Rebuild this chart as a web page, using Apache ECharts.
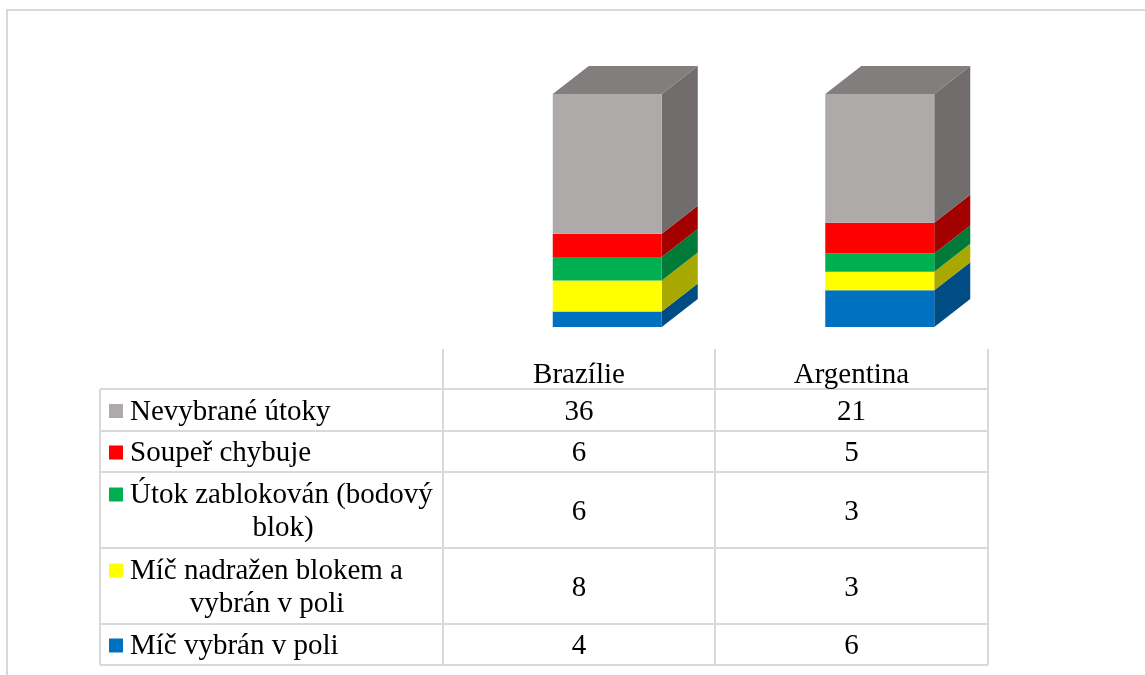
<!DOCTYPE html>
<html>
<head>
<meta charset="utf-8">
<script src="https://cdn.jsdelivr.net/npm/echarts@6/dist/echarts.min.js"></script>
<style>
html,body{margin:0;padding:0;background:#fff;}
#chart{width:1145px;height:675px;}
</style>
</head>
<body>
<div id="chart"></div>
<script>
// ---- data ----
const categories = ['Brazílie', 'Argentina'];
const seriesNames = ['Míč vybrán v poli', 'Míč nadražen blokem a vybrán v poli', 'Útok zablokován (bodový blok)', 'Soupeř chybuje', 'Nevybrané útoky'];
const valuesBlue   = [4, 6];
const valuesYellow = [8, 3];
const valuesGreen  = [6, 3];
const valuesRed    = [6, 5];
const valuesGray   = [36, 21];
// label lines as wrapped in the table
const tableLabelLines = [
  ['Míč vybrán v poli'],
  ['Míč nadražen blokem a', 'vybrán v poli'],
  ['Útok zablokován (bodový', 'blok)'],
  ['Soupeř chybuje'],
  ['Nevybrané útoky']
];

// ---- styles ----
const frontColors = ['#0070C0', '#FFFF00', '#00B050', '#FF0000', '#AEAAAA'];
const sideColors  = ['#004C85', '#A8A800', '#007A38', '#A30000', '#716D6D'];
const topColor = '#827E7E';
const FONT = '"Liberation Serif", "Times New Roman", serif';
const FS = 29;
const lineColor = '#d9d9d9';

const allValues = [valuesBlue, valuesYellow, valuesGreen, valuesRed, valuesGray];
// 100% stacking
const totals = categories.map((c, i) => allValues.reduce((s, arr) => s + arr[i], 0));
const stacked = [];
const running = categories.map(() => 0);
allValues.forEach((arr, si) => {
  stacked.push(arr.map((v, ci) => {
    const start = running[ci] / totals[ci] * 100;
    running[ci] += v;
    const end = running[ci] / totals[ci] * 100;
    return [ci, start, end, v];
  }));
});

const HALF_W = 54.5, DX = 36, DY = 28;

function makeRender(si) {
  return function (params, api) {
    const ci = api.value(0);
    const p0 = api.coord([ci, api.value(1)]);
    const p1 = api.coord([ci, api.value(2)]);
    const xl = p0[0] - HALF_W, xr = p0[0] + HALF_W;
    const yb = p0[1], yt = p1[1];
    const children = [
      { type: 'polygon', shape: { points: [[xr, yb], [xr + DX, yb - DY], [xr + DX, yt - DY], [xr, yt]] },
        style: { fill: sideColors[si] } },
      { type: 'rect', shape: { x: xl, y: yt, width: xr - xl, height: yb - yt },
        style: { fill: frontColors[si] } }
    ];
    if (si === allValues.length - 1) {
      children.push({ type: 'polygon', shape: { points: [[xl, yt], [xl + DX, yt - DY], [xr + DX, yt - DY], [xr, yt]] },
        style: { fill: topColor } });
    }
    return { type: 'group', children: children };
  };
}

// ---- table layout ----
const tblLeft = 100, colX = [443, 715, 988];
const rowY = [389, 431, 472, 548, 624, 665];
const headerTop = 349;
const graphics = [];
// outer chart border
graphics.push({ type: 'rect', shape: { x: 7, y: 10, width: 1300, height: 1000 }, style: { fill: null, stroke: lineColor, lineWidth: 2 }, silent: true });
function hline(y, x1, x2) { graphics.push({ type: 'line', shape: { x1: x1, y1: y, x2: x2, y2: y }, style: { stroke: lineColor, lineWidth: 2 } }); }
function vline(x, y1, y2) { graphics.push({ type: 'line', shape: { x1: x, y1: y1, x2: x, y2: y2 }, style: { stroke: lineColor, lineWidth: 2 } }); }
rowY.forEach(y => hline(y, tblLeft, colX[2]));
vline(tblLeft, rowY[0], rowY[rowY.length - 1]);
colX.forEach(x => vline(x, headerTop, rowY[rowY.length - 1]));

const TY = 2; // text vertical nudge
function txt(s, x, y, align) {
  graphics.push({ type: 'text', x: x, y: y + TY, style: { text: s, font: FS + 'px ' + FONT, fill: '#000', textAlign: align || 'center', textVerticalAlign: 'middle' } });
}
// headers
categories.forEach((c, ci) => txt(c, (colX[ci] + colX[ci + 1]) / 2, 373));
// rows: table order is top series first
const rowOrder = [4, 3, 2, 1, 0];
const line2X = { 2: 283, 1: 267 };
rowOrder.forEach((si, ri) => {
  const y0 = rowY[ri], y1 = rowY[ri + 1];
  const mid = (y0 + y1) / 2;
  const lines = tableLabelLines[si];
  const firstY = lines.length === 1 ? mid : mid - 16.5;
  graphics.push({ type: 'rect', shape: { x: 109, y: firstY - 7 + 1, width: 14, height: 14 }, style: { fill: frontColors[si] } });
  txt(lines[0], 130, firstY, 'left');
  if (lines.length > 1) txt(lines[1], line2X[si], firstY + 33);
  categories.forEach((c, ci) => txt(String(allValues[si][ci]), (colX[ci] + colX[ci + 1]) / 2, mid));
});

const chart = echarts.init(document.getElementById('chart'));
chart.setOption({
  backgroundColor: '#fff',
  animation: false,
  grid: { left: 471, width: 545, top: 94, height: 233 },
  xAxis: { type: 'category', data: categories, show: false },
  yAxis: { type: 'value', min: 0, max: 100, show: false },
  series: allValues.map((arr, si) => ({
    type: 'custom',
    name: seriesNames[si],
    renderItem: makeRender(si),
    encode: { x: 0, y: [1, 2] },
    data: stacked[si]
  })),
  graphic: graphics
});
</script>
</body>
</html>
